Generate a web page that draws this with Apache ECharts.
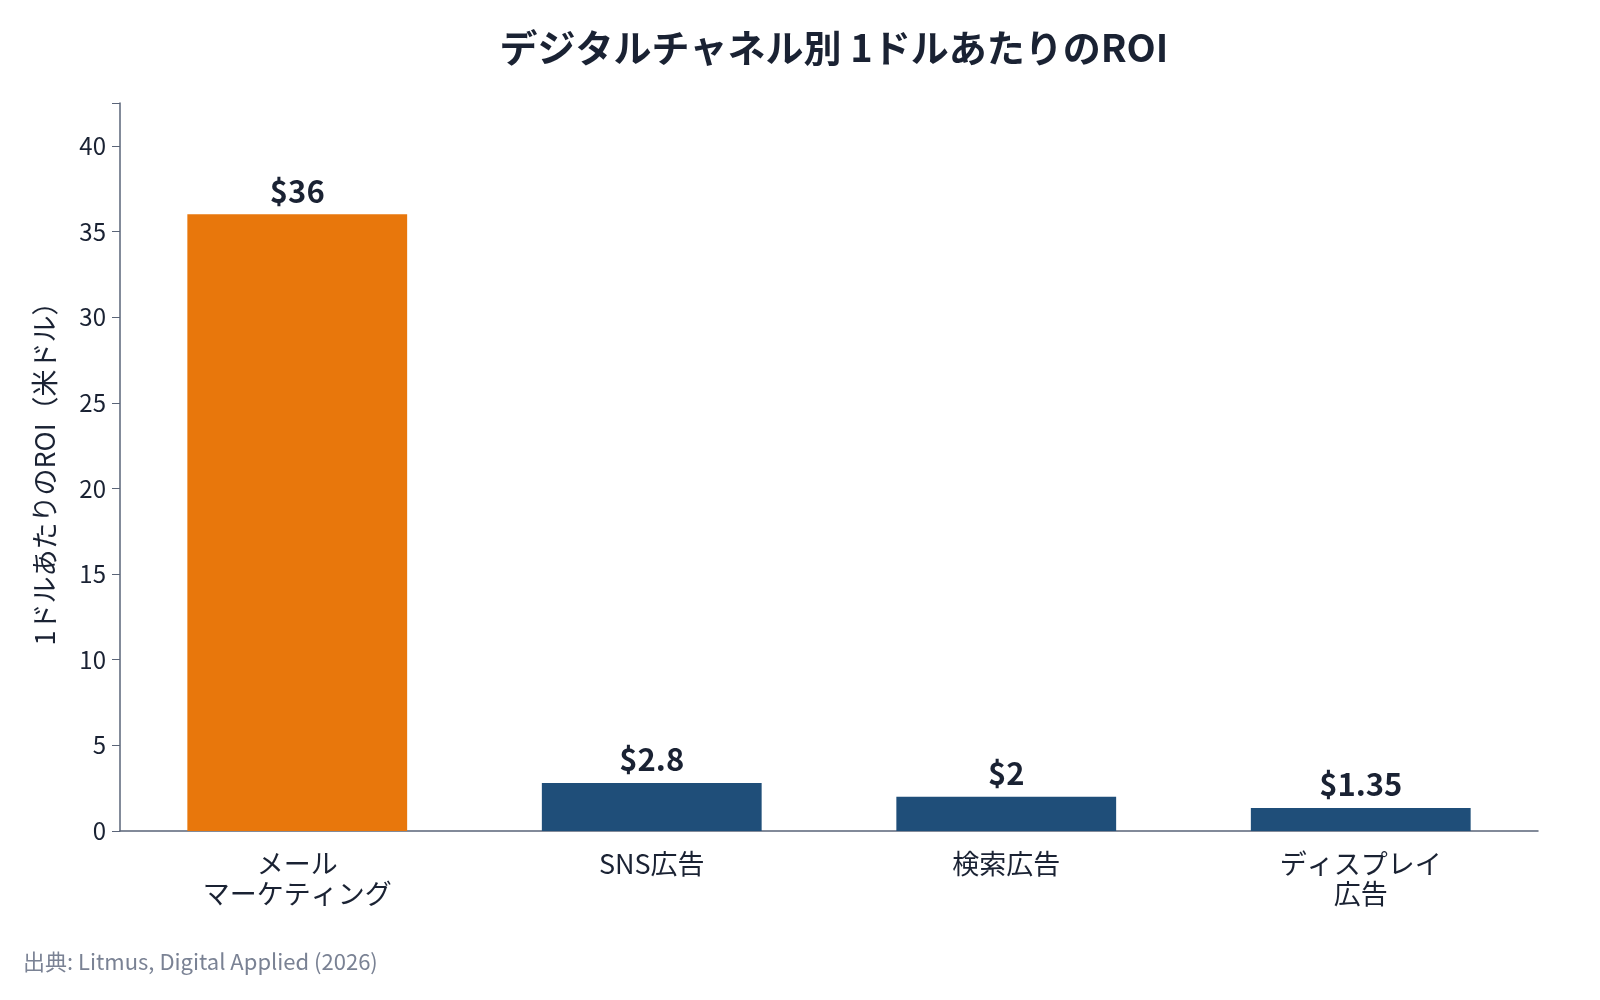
<!DOCTYPE html>
<html lang="ja">
<head>
<meta charset="UTF-8">
<title>ROI</title>
<style>
  body,html{margin:0;background:#fff;}
  #chart{width:1600px;height:1000px;}
</style>
</head>
<body>
<div id="chart"></div>
<script src="https://cdn.jsdelivr.net/npm/echarts@6/dist/echarts.min.js"></script>
<script>
    // データ
    const categories = ['メール\nマーケティング', 'SNS広告', '検索広告', 'ディスプレイ\n広告'];
    const roiValues = [36, 2.8, 2, 1.35];
    const barColors = ['#E8770C', '#1F4E79', '#1F4E79', '#1F4E79'];

    const font = '"Noto Sans CJK JP", "Noto Sans", sans-serif';
    const ink = '#1a2233';
    const axisColor = '#5a6478';

    let myChart = echarts.init(document.getElementById('chart'));
    myChart.setOption({
        textStyle: {fontFamily: font},
        title: [{
            text: 'デジタルチャネル別 1ドルあたりのROI',
            left: 829, top: 24, textAlign: 'center',
            textStyle: {fontSize: 38, fontWeight: 'bold', color: ink, fontFamily: font}
        }, {
            text: '出典: Litmus, Digital Applied (2026)',
            left: 18, top: 946,
            textStyle: {fontSize: 22, fontWeight: 'normal', color: '#7a8294', fontFamily: font}
        }],
        grid: {left: 120, right: 62, top: 103, bottom: 169},
        xAxis: {
            type: 'category',
            data: categories,
            axisLine: {lineStyle: {color: axisColor, width: 1.5}},
            axisTick: {alignWithLabel: true, length: 8, lineStyle: {color: axisColor}},
            axisLabel: {fontSize: 27, color: ink, lineHeight: 30, margin: 18, fontFamily: font}
        },
        yAxis: {
            type: 'value',
            min: 0, max: 42.5, interval: 5,
            name: '1ドルあたりのROI（米ドル）',
            nameLocation: 'middle', nameGap: 62,
            nameTextStyle: {fontSize: 27, color: ink, fontFamily: font},
            splitLine: {show: false},
            axisLine: {show: true, lineStyle: {color: axisColor, width: 1.5}},
            axisTick: {show: true, length: 8, lineStyle: {color: axisColor}},
            axisLabel: {
                fontSize: 24, color: ink, margin: 14, fontFamily: font,
                formatter: v => (v % 5 === 0 ? v : '')
            }
        },
        series: [{
            type: 'bar',
            barWidth: '62%',
            data: roiValues.map((v, i) => ({value: v, itemStyle: {color: barColors[i]}})),
            label: {
                show: true, position: 'top', distance: 8,
                formatter: p => '$' + p.value,
                fontSize: 31, fontWeight: 'bold', color: ink, fontFamily: font
            }
        }]
    });
</script>
</body>
</html>
